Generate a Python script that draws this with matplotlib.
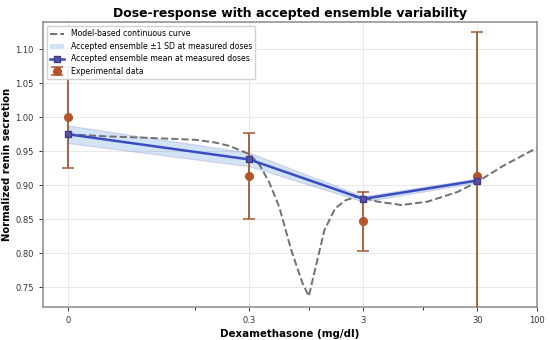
import matplotlib
matplotlib.use('Agg')
import matplotlib.pyplot as plt
from matplotlib.patches import Patch
from matplotlib.lines import Line2D

# measured doses (mg/dl)
doses = [0, 0.3, 3, 30]

# experimental data
exp_mean = [1.000, 0.914, 0.847, 0.914]
exp_err = [0.074, 0.063, 0.043, 0.212]

# accepted ensemble at measured doses
ens_mean = [0.975, 0.938, 0.880, 0.907]
ens_sd = [0.013, 0.010, 0.004, 0.003]

# model-based continuous curve
curve_x = [0, 0.03, 0.06, 0.1, 0.15, 0.2, 0.3, 0.37, 0.45, 0.55, 0.7, 0.88,
           1.0, 1.13, 1.37, 1.7, 2.1, 2.6, 3, 4, 6.5, 11, 20, 30, 50, 100]
curve_y = [0.975, 0.972, 0.970, 0.967, 0.963, 0.958, 0.946, 0.930, 0.904,
           0.868, 0.805, 0.756, 0.737, 0.775, 0.834, 0.866, 0.878, 0.883,
           0.882, 0.876, 0.871, 0.876, 0.890, 0.905, 0.928, 0.955]

xticks = [0, 0.3, 3, 30, 100]
xticklabels = ['0', '0.3', '3', '30', '100']

fig = plt.figure(figsize=(5.5, 3.4), dpi=100)
ax = fig.add_axes([0.078, 0.097, 0.898, 0.838])

ax.set_xscale('symlog', linthresh=0.1, linscale=1)

ax.plot(curve_x, curve_y, linestyle='--', color='#707070', lw=1.4, zorder=2)

lo = [m - s for m, s in zip(ens_mean, ens_sd)]
hi = [m + s for m, s in zip(ens_mean, ens_sd)]
ax.fill_between(doses, lo, hi, color='#4a90d9', alpha=0.25, lw=0.8,
                edgecolor='#7a70c0', zorder=1)

ax.errorbar(doses, exp_mean, yerr=exp_err, fmt='o', color='#b5532a',
            ecolor='#a8643c', elinewidth=1.4, capsize=4, capthick=1.2,
            markersize=5.5, zorder=3)

ax.plot(doses, ens_mean, '-s', color='#3b4cc0', lw=1.8, markersize=5,
        markerfacecolor='#5c4f9e', markeredgecolor='#3b3b8f', zorder=4)

ax.set_xlim(-0.02, 100)
ax.set_ylim(0.721, 1.14)
ax.set_xticks(xticks)
ax.set_xticklabels(xticklabels)
ax.set_xticks([0.1, 1, 10], minor=True)
ax.set_yticks([0.75, 0.80, 0.85, 0.90, 0.95, 1.00, 1.05, 1.10])
ax.set_yticklabels(['0.75', '0.80', '0.85', '0.90', '0.95', '1.00', '1.05', '1.10'])
ax.tick_params(labelsize=6, colors='#333333', length=3, width=0.7)
ax.tick_params(which='minor', length=2, width=0.6)
ax.grid(True, which='major', color='#e8e8e8', lw=0.7)
ax.set_axisbelow(True)
for sp in ax.spines.values():
    sp.set_color('#8a8a8a')
    sp.set_linewidth(1.1)

ax.set_title('Dose-response with accepted ensemble variability',
             fontsize=9, fontweight='bold', pad=4)
ax.set_xlabel('Dexamethasone (mg/dl)', fontsize=7.4, fontweight='bold', labelpad=3)
ax.set_ylabel('Normalized renin secretion', fontsize=7.2, fontweight='bold')
ax.yaxis.set_label_coords(-0.062, 0.5)

handles = [
    Line2D([], [], linestyle='--', color='#707070', lw=1.4),
    Patch(facecolor='#4a90d9', alpha=0.25, edgecolor='none'),
    Line2D([], [], marker='s', color='#3b4cc0', lw=1.8, markersize=5,
           markerfacecolor='#5c4f9e', markeredgecolor='#3b3b8f'),
    ax.containers[0],
]
labels = ['Model-based continuous curve',
          'Accepted ensemble \u00b11 SD at measured doses',
          'Accepted ensemble mean at measured doses',
          'Experimental data']
ax.legend(handles, labels, loc='upper left', fontsize=5.6, framealpha=0.9,
          borderpad=0.45, labelspacing=0.45, handlelength=1.8,
          bbox_to_anchor=(0.0, 1.0))

fig.savefig('out.png', dpi=100)
